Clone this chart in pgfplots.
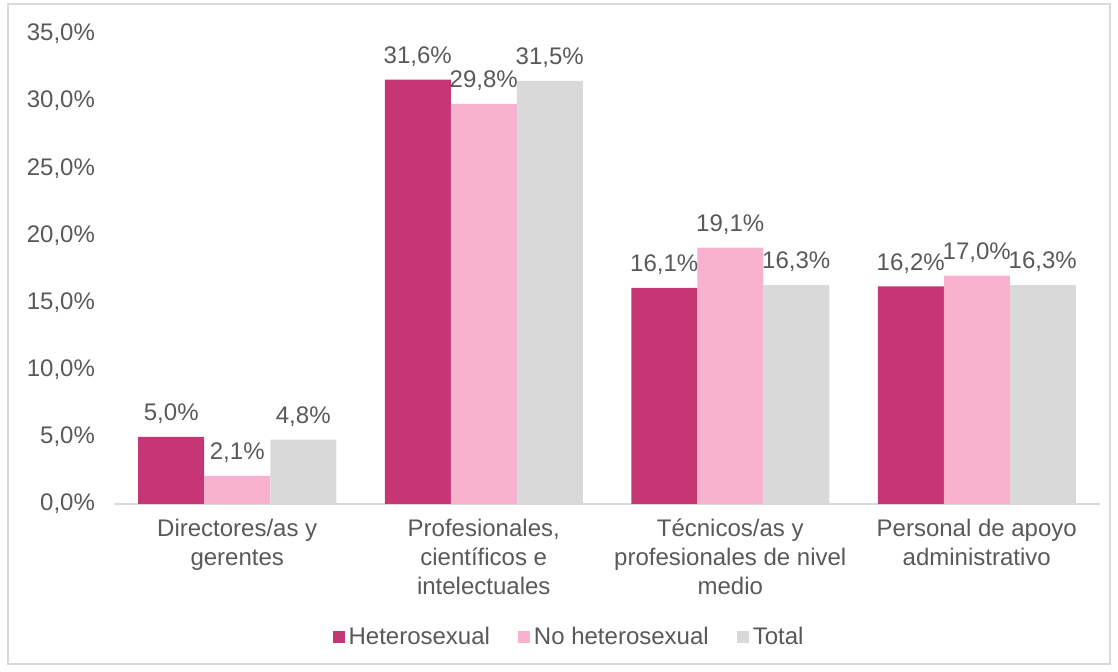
\documentclass[border=0pt]{standalone}
\usepackage{pgfplots}
\pgfplotsset{compat=1.18}
\usepackage{fontspec}
\setmainfont{Liberation Sans}
\definecolor{het}{HTML}{C73674}
\definecolor{nohet}{HTML}{F8B2CE}
\definecolor{tot}{HTML}{D9D9D9}
\definecolor{txt}{HTML}{595959}
\begin{document}
\begin{tikzpicture}[x=1pt,y=1pt]
\path[draw=tot, line width=0.8pt] (-53,-80) rectangle (498,250);
\path (-57,-84) rectangle (502,252);
\begin{axis}[
    at={(0,0)}, anchor=south west,
    scale only axis, width=493pt, height=235pt,
    ybar=0pt, bar width=33pt,
    xmin=-0.5, xmax=3.5, ymin=0, ymax=35,
    ytick={0,5,...,35},
    xtick={0,1,2,3},
    xticklabels={{Directores/as y\\gerentes},{Profesionales,\\científicos e\\intelectuales},{Técnicos/as y\\profesionales de nivel\\medio},{Personal de apoyo\\administrativo}},
    xticklabel style={align=center, font=\fontsize{12}{14.5}\selectfont, text=txt, yshift=-4pt},
    yticklabel={\pgfmathprintnumber[fixed,fixed zerofill,precision=1,use comma]{\tick}\%},
    yticklabel style={font=\fontsize{12}{14}\selectfont, text=txt, xshift=-6pt},
    /pgf/number format/assume math mode=true,
    axis x line*=bottom, axis y line*=left,
    x axis line style={draw=tot, line width=0.8pt, -},
    y axis line style={draw=none},
    major tick length=0pt,
    nodes near coords={\pgfmathprintnumber[fixed,fixed zerofill,precision=1,use comma]{\pgfplotspointmeta}\%},
    nodes near coords style={font=\fontsize{12}{14}\selectfont, text=txt, yshift=3pt},
    legend columns=3,
    legend style={draw=none, at={(0.4625,-0.283)}, anchor=center, font=\fontsize{12}{14}\selectfont, text=txt,
        /tikz/every even column/.append style={column sep=12pt}},
    legend image code/.code={\fill[#1] (0pt,-3pt) rectangle (6pt,3pt);},
    clip=false,
]
\addplot[fill=het, draw=none] coordinates {(0,5.0) (1,31.6) (2,16.1) (3,16.2)};
\addlegendentry{Heterosexual}
\addplot[fill=nohet, draw=none] coordinates {(0,2.1) (1,29.8) (2,19.1) (3,17.0)};
\addlegendentry{No heterosexual}
\addplot[fill=tot, draw=none] coordinates {(0,4.8) (1,31.5) (2,16.3) (3,16.3)};
\addlegendentry{Total}
\end{axis}
\end{tikzpicture}
\end{document}
